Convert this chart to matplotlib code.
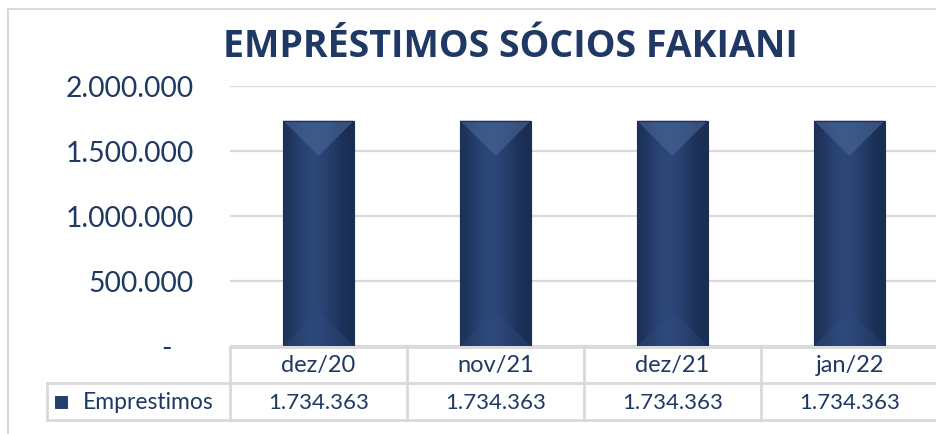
import matplotlib
matplotlib.use('Agg')
import matplotlib.pyplot as plt
import numpy as np
from matplotlib.patches import Rectangle, Polygon
from matplotlib.transforms import blended_transform_factory
from matplotlib.colors import LinearSegmentedColormap

categories = ['dez/20', 'nov/21', 'dez/21', 'jan/22']
emprestimos = [1734363, 1734363, 1734363, 1734363]
series_name = 'Emprestimos'
title = 'EMPRÉSTIMOS SÓCIOS FAKIANI'
yticks = [0, 500000, 1000000, 1500000, 2000000]

W, H = 936, 435
navy = '#1F3864'
grid = '#D9D9D9'
plt.rcParams['font.family'] = ['Lato', 'DejaVu Sans']


def fmt(v):
    if v == 0:
        return '-   '
    return f'{v:,.0f}'.replace(',', '.')


def fy(py):
    # pixel row (from top) -> figure fraction
    return 1 - py / H


fig = plt.figure(figsize=(W / 100, H / 100), dpi=100)
fig.patch.set_facecolor('white')

# outer chart border
fig.patches.append(Rectangle((8 / W, -0.05), 1.2, fy(10) + 0.05, transform=fig.transFigure,
                             fill=False, edgecolor=grid, lw=1.5))

ax = fig.add_axes([230 / W, fy(347), 706 / W, 260 / H])
x = np.arange(len(categories))
ax.set_yticks(yticks)
ax.set_yticklabels([fmt(v) for v in yticks], fontsize=20.3, color=navy)
ax.tick_params(axis='y', length=0, pad=26)
ax.tick_params(axis='x', length=0, labelbottom=False)
for s in ax.spines.values():
    s.set_visible(False)
ax.grid(axis='y', color=grid, lw=1.6)
ax.set_axisbelow(True)

bars = ax.bar(x, emprestimos, width=0.40, color='#243F6E', zorder=2)
ax.set_xlim(-0.5, -0.5 + 706 / 177)
ax.set_ylim(0, 2000000)

# bevel depth equal to half bar width in pixels, converted to data units
px_per_x = 706 / (ax.get_xlim()[1] - ax.get_xlim()[0])
px_per_y = 260 / (ax.get_ylim()[1] - ax.get_ylim()[0])
grad = np.array([[0.1, 0.4, 0.55, 0.45, 0.2, 0.0]])
cmap = LinearSegmentedColormap.from_list('b', ['#1A2D52', '#2F4B7E'])
for b in bars:
    x0, w, h = b.get_x(), b.get_width(), b.get_height()
    im = ax.imshow(grad, extent=(x0, x0 + w, 0, h), aspect='auto', cmap=cmap,
                   vmin=0, vmax=0.6, zorder=3, interpolation='bicubic')
    im.set_clip_path(b)
    d = (w / 2) * px_per_x / px_per_y
    ax.add_patch(Polygon([(x0, h), (x0 + w, h), (x0 + w / 2, h - d)],
                         closed=True, color='#4A6797', alpha=0.6, lw=0, zorder=4))
    ax.add_patch(Polygon([(x0, 0), (x0 + w, 0), (x0 + w / 2, d)],
                         closed=True, color='#2F4C80', alpha=0.35, lw=0, zorder=4))
    ax.add_patch(Rectangle((x0, 0), w, h, fill=False, edgecolor='#1A2D52', lw=0.8, zorder=5))
ax.set_xlim(-0.5, -0.5 + 706 / 177)
ax.set_ylim(0, 2000000)

fig.text(510 / W, fy(47), title, ha='center', va='center', fontsize=27,
         fontweight='bold', color=navy, family=['Open Sans', 'DejaVu Sans'])

# data table under the axis
tr = blended_transform_factory(ax.transData, fig.transFigure)
lkw = dict(color=grid, lw=2, clip_on=False, transform=tr, zorder=1)
xl = -0.5 - (230 - 47) / 177
xr = -0.5 + 720 / 177
ax.plot([-0.5, xr], [fy(348), fy(348)], **lkw)
ax.plot([xl, xr], [fy(384), fy(384)], **lkw)
ax.plot([xl, xr], [fy(421), fy(421)], **lkw)
ax.plot([xl, xl], [fy(384), fy(421)], **lkw)
for i in range(len(categories)):
    ax.plot([i - 0.5, i - 0.5], [fy(348), fy(421)], **lkw)
    ax.text(i, fy(366), categories[i], transform=tr, ha='center', va='center',
            fontsize=17, color=navy)
    ax.text(i, fy(403), fmt(emprestimos[i]), transform=tr, ha='center', va='center',
            fontsize=16, color=navy)

fig.patches.append(Rectangle((55 / W, fy(409)), 12 / W, 12 / H, transform=fig.transFigure,
                             facecolor='#243F6E', edgecolor='#1A2D52', lw=0.6))
fig.text(83 / W, fy(403), series_name, ha='left', va='center', fontsize=16.5, color=navy)

fig.savefig('out.png', dpi=100, facecolor='white')
